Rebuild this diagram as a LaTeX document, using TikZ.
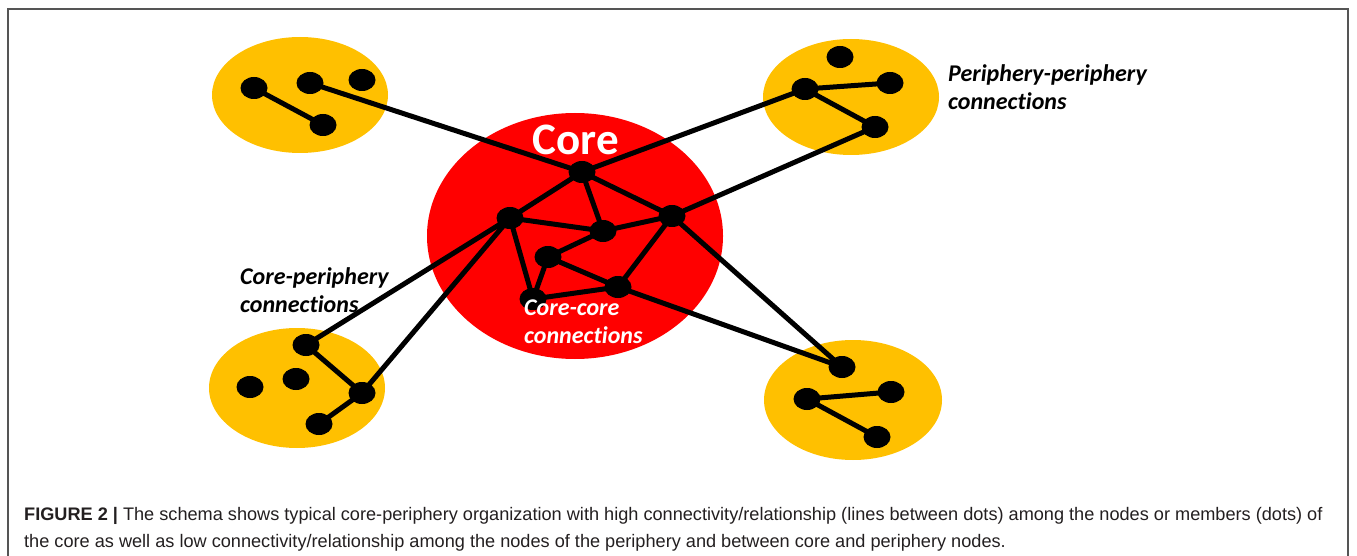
\documentclass[tikz,border=0pt]{standalone}
\usepackage{fontspec}
\setmainfont{Liberation Sans}
\newfontfamily\carlitofont[Ligatures=NoCommon]{Carlito}
\usetikzlibrary{shapes.geometric}
\definecolor{corered}{RGB}{255,0,0}
\definecolor{perigold}{RGB}{255,192,0}
\definecolor{framegray}{RGB}{85,85,85}
\definecolor{captext}{RGB}{35,31,32}
\tikzset{
  blob/.style={ellipse, inner sep=0pt, draw=none},
  dot/.style={ellipse, fill=black, inner sep=0pt, minimum width=27pt, minimum height=22pt},
  link/.style={line width=5pt},
  lbl/.style={font=\carlitofont\bfseries\itshape\fontsize{24}{28}\selectfont, align=left, anchor=base west, inner sep=0pt},
  captxt/.style={anchor=base west, inner sep=0pt, text=captext, font=\fontsize{18.15}{22}\selectfont},
}
\begin{document}
\begin{tikzpicture}[x=1pt,y=-1pt]
\useasboundingbox (0,0) rectangle (1357,556);
\draw[framegray, line width=1.5pt] (8,556) -- (8,9) -- (1348,9) -- (1348,556);
% blobs
\node[blob, fill=corered, minimum width=296pt, minimum height=246pt] (core) at (575,236) {};
\node[blob, fill=perigold, minimum width=176pt, minimum height=116pt] (ptl) at (300,95) {};
\node[blob, fill=perigold, minimum width=176pt, minimum height=116pt] (ptr) at (851,97) {};
\node[blob, fill=perigold, minimum width=176pt, minimum height=120pt] (pbl) at (297,388) {};
\node[blob, fill=perigold, minimum width=178pt, minimum height=120pt] (pbr) at (853,400) {};
% core dots
\node[dot] (T) at (582,172) {};
\node[dot] (L) at (510,218) {};
\node[dot] (R) at (672,216) {};
\node[dot] (M) at (603,231) {};
\node[dot] (C) at (548,257) {};
\node[dot] (BR) at (618,287) {};
\node[dot] (BL) at (533,299) {};
% top-left
\node[dot] (a1) at (254,88) {};
\node[dot] (a2) at (310,83) {};
\node[dot] (a3) at (362,80) {};
\node[dot] (a4) at (323,125) {};
% top-right
\node[dot] (b1) at (840,57) {};
\node[dot] (b2) at (805,89) {};
\node[dot] (b3) at (890,83) {};
\node[dot] (b4) at (875,127) {};
% bottom-left
\node[dot] (c1) at (306,345) {};
\node[dot] (c2) at (362,393) {};
\node[dot] (c3) at (319,424) {};
\node[dot] (c4) at (250,387) {};
\node[dot] (c5) at (296,379) {};
% bottom-right
\node[dot] (d1) at (842,367) {};
\node[dot] (d2) at (807,399) {};
\node[dot] (d3) at (891,392) {};
\node[dot] (d4) at (877,437) {};
% links
\draw[link] (T.center) -- (L.center) (T.center) -- (M.center) (T.center) -- (R.center)
  (L.center) -- (M.center) (M.center) -- (R.center) (L.center) -- (BL.center)
  (M.center) -- (C.center) (C.center) -- (BL.center) (C.center) -- (BR.center)
  (BL.center) -- (BR.center) (R.center) -- (BR.center);
\draw[link] (a1.center) -- (a4.center) (a2.center) -- (T.center);
\draw[link] (b2.center) -- (b3.center) (b2.center) -- (b4.center)
  (b2.center) -- (T.center) (b4.center) -- (R.center);
\draw[link] (c1.center) -- (c2.center) (c2.center) -- (c3.center)
  (c1.center) -- (L.center) (c2.center) -- (L.center);
\draw[link] (d2.center) -- (d3.center) (d2.center) -- (d4.center)
  (d1.center) -- (R.center) (d1.center) -- (BR.center);
% labels
\node[font=\carlitofont\bfseries\fontsize{45}{50}\selectfont, text=white, inner sep=0pt] (corelbl) at (576,140) {Core};
\node[lbl] (pplbl) at (948,110) {Periphery-periphery\\connections};
\node[lbl] (cplbl) at (240,312) {Core-periphery\\connections};
\node[lbl, text=white] (cclbl) at (524,343) {Core-core\\connections};
% caption
\node[captxt] (cap1) at (24,520)
  {\textbf{FIGURE 2 |} The schema shows typical core-periphery organization with high connectivity/relationship (lines between dots) among the nodes or members (dots) of};
\node[captxt] (cap2) at (24,547)
  {the core as well as low connectivity/relationship among the nodes of the periphery and between core and periphery nodes.};
\end{tikzpicture}
\end{document}
